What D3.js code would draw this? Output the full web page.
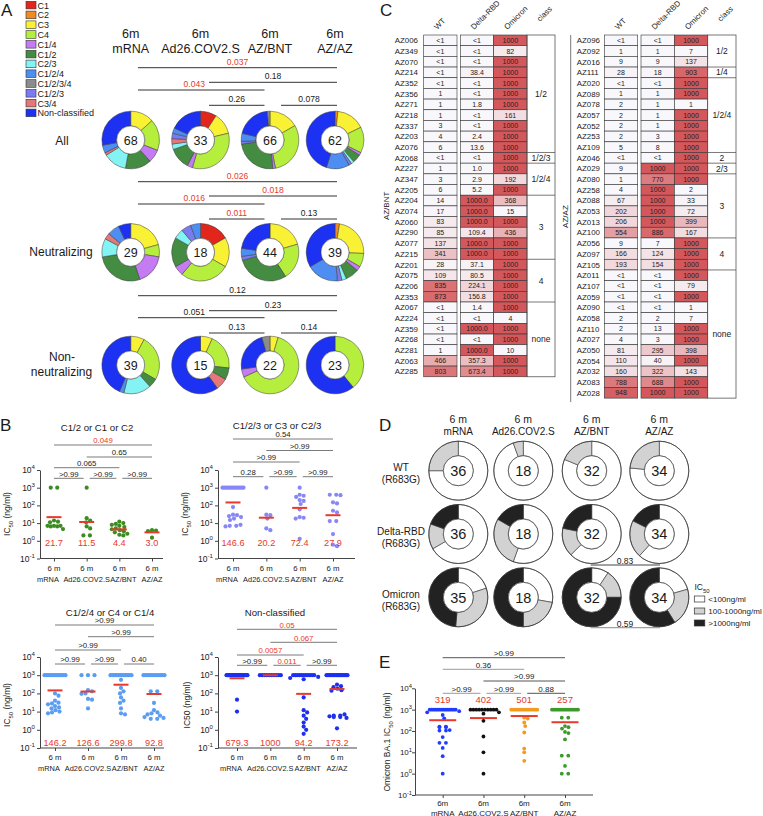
<!DOCTYPE html>
<html><head><meta charset="utf-8">
<script src="https://cdn.jsdelivr.net/npm/d3@7/dist/d3.min.js"></script>
<style>
body{margin:0;background:#fff}
svg text{font-family:Arial,"Liberation Sans",Helvetica,sans-serif}
</style></head><body>
<svg id="fig" width="763" height="816" xmlns="http://www.w3.org/2000/svg"></svg>
<script>
// ================= DATA =================
const vaccines = ["mRNA", "Ad26.COV2.S", "AZ/BNT", "AZ/AZ"];
const timeLabel = "6m";
const timeLabelB = "6 m";

// Panel A
const legendClasses = ["C1","C2","C3","C4","C1/4","C1/2","C2/3","C1/2/4","C1/2/3/4","C1/2/3","C3/4","Non-classified"];
const pieClassOrder = ["C1","C2","C3","C4","C1/4","C1/2","C2/3","C3/4","C1/2/3","C1/2/4","Non-classified","C1/2/3/4"];
const donutRowLabels = ["All","Neutralizing","Non-neutralizing"];
const countsAll = [[0,0,9,12,5,10,9,1,0,3,19,0],[3,0,4,11,1,4,1,1,1,1,6,0],[0,0,11,20,1,16,0,0,1,3,13,1],[0,1,10,9,1,3,1,0,1,8,28,0]];
const countsNeutralizing = [[0,0,6,2,5,8,3,1,0,2,2,0],[3,0,3,5,1,3,1,0,1,1,0,0],[0,0,9,9,0,13,0,0,1,2,10,0],[0,1,9,3,1,3,1,0,1,7,13,0]];
const countsNonNeutralizing = [[0,0,3,10,0,2,6,0,0,1,17,0],[0,0,1,3,0,1,0,1,0,0,9,0],[0,0,1,14,1,0,0,0,0,0,5,1],[0,0,0,9,0,0,0,0,0,0,14,0]];
// [from, to, p, significant]
const pAll = [[0,3,"0.037",1],[1,3,"0.18",0],[0,2,"0.043",1],[1,2,"0.26",0],[2,3,"0.078",0]];
const pNeutralizing = [[0,3,"0.026",1],[1,3,"0.018",1],[0,2,"0.016",1],[1,2,"0.011",1],[2,3,"0.13",0]];
const pNonNeutralizing = [[0,3,"0.12",0],[1,3,"0.23",0],[0,2,"0.051",0],[1,2,"0.13",0],[2,3,"0.14",0]];

// Panel B
const bTitles = ["C1/2 or C1 or C2","C1/2/3 or C3 or C2/3","C1/2/4 or C4 or C1/4","Non-classified"];
const b1_mRNA = [1000,1000,14,12,11,7,7,7,6.5,6.5,4.6];
const b1_Ad26 = [1000,19,14,11,6.5,5,2,2];
const b1_AZBNT = [12,10,9,8,7,6,5,4.5,4,3.5,3,2.5,2.2,2];
const b1_AZAZ = [4,3.8,3.5,1.5];
const b1_means = [21.7,11.5,4.4,3.0];
const b2_mRNA = [1000,1000,1000,1000,1000,1000,1000,1000,1000,1000,1000,1000,1000,80,30,28,25,22,18,15,8,7,7,6.5];
const b2_Ad26 = [1000,30,28,18,5,4];
const b2_AZBNT = [1000,400,350,300,200,180,120,60,22,20,18,1.3];
const b2_AZAZ = [400,400,380,150,130,50,40,13,13,2.4,0.6,0.5];
const b2_means = [146.6,20.2,72.4,27.9];
const b3_mRNA = [1000,1000,1000,1000,1000,1000,1000,1000,1000,1000,1000,1000,1000,100,75,40,31,28,25,20,17,15,12,10,9,8];
const b3_Ad26 = [1000,1000,1000,150,130,100,95,50,45,15];
const b3_AZBNT = [1000,1000,1000,1000,1000,1000,1000,1000,1000,1000,1000,1000,1000,1000,560,200,130,100,60,40,30,15,8,7];
const b3_AZAZ = [1000,1000,1000,1000,1000,1000,1000,1000,1000,1000,1000,1000,130,130,30,12,9,8,7,6,5,4.5,4,4];
const b3_means = [146.2,126.6,299.8,92.8];
const b4_mRNA = [1000,1000,1000,1000,1000,1000,1000,1000,1000,1000,1000,1000,1000,1000,1000,1000,1000,1000,1000,1000,45,10];
const b4_Ad26 = [1000,1000,1000,1000,1000,1000,1000,1000,1000,1000];
const b4_AZBNT = [1000,1000,1000,1000,1000,1000,1000,1000,1000,1000,1000,800,700,600,60,12,9,6,4,2.5,1.5,1,0.6];
const b4_AZAZ = [1000,1000,1000,1000,1000,1000,1000,1000,1000,1000,1000,1000,1000,1000,1000,1000,300,250,220,180,150,140,7,6,6,5.5,5,5,4.5,1.2];
const b4_means = [679.3,1000,94.2,173.2];
const pB1 = [[0,3,"0.049",1],[1,3,"0.65",0],[0,2,"0.065",0],[0,1,">0.99",0],[1,2,">0.99",0],[2,3,">0.99",0]];
const pB2 = [[0,3,"0.54",0],[1,3,">0.99",0],[0,2,">0.99",0],[0,1,"0.28",0],[1,2,">0.99",0],[2,3,">0.99",0]];
const pB3 = [[0,3,">0.99",0],[1,3,">0.99",0],[0,2,">0.99",0],[0,1,">0.99",0],[1,2,">0.99",0],[2,3,"0.40",0]];
const pB4 = [[0,3,"0.05",1],[1,3,"0.067",1],[0,2,"0.0057",1],[0,1,">0.99",0],[1,2,"0.011",1],[2,3,">0.99",0]];

// Panel C
const tableHeaders = ["WT","Delta-RBD","Omicron","class"];
const cLeftGroup = "AZ/BNT";
const cLeftIds = ["AZ006","AZ349","AZ070","AZ214","AZ352","AZ356","AZ271","AZ218","AZ337","AZ203","AZ076","AZ068","AZ227","AZ347","AZ205","AZ204","AZ074","AZ060","AZ290","AZ077","AZ215","AZ201","AZ075","AZ206","AZ353","AZ067","AZ224","AZ359","AZ268","AZ281","AZ063","AZ285"];
const cLeftWT = ["<1","<1","<1","<1","<1","1","1","1","3","4","6","<1","1","3","6","14","17","83","85","137","341","28","109","835","873","<1","<1","<1","<1","1","466","803"];
const cLeftDelta = ["<1","<1","<1","38.4","<1","<1","1.8","<1","<1","2.4","13.6","<1","1.0","2.9","5.2","1000.0","1000.0","1000.0","109.4","1000.0","1000.0","37.1","80.5","224.1","156.8","1.4","<1","1000.0","<1","1000.0","357.3","673.4"];
const cLeftOmicron = ["1000","82","1000","1000","1000","1000","1000","161","1000","1000","1000","1000","1000","192","1000","368","15","1000","436","1000","1000","1000","1000","1000","1000","1000","4","1000","1000","10","1000","1000"];
const cLeftClasses = [["1/2",11],["1/2/3",1],["1/2/4",3],["3",6],["4",4],["none",7]];
const cRightGroup = "AZ/AZ";
const cRightIds = ["AZ096","AZ092","AZ016","AZ111","AZ020","AZ089","AZ078","AZ057","AZ052","AZ253","AZ109","AZ046","AZ029","AZ080","AZ258","AZ088","AZ053","AZ013","AZ100","AZ056","AZ097","AZ105","AZ011","AZ107","AZ059","AZ090","AZ058","AZ110","AZ027","AZ050","AZ054","AZ032","AZ083","AZ028"];
const cRightWT = ["<1","1","9","28","<1","1","2","2","2","2","5","<1","9","1","4","67","202","206","554","9","166","193","<1","<1","<1","<1","2","2","4","81","110","160","788","948"];
const cRightDelta = ["<1","1","9","18","<1","1","1","1","1","3","8","<1","1000","770","1000","1000","1000","1000","886","7","124","154","<1","<1","<1","<1","2","13","3","295","40","322","688","1000"];
const cRightOmicron = ["1000","7","137","903","1000","1000","1","1000","1000","1000","1000","1000","1000","1000","2","33","72","399","167","1000","1000","1000","1000","79","1000","1","7","1000","1000","398","1000","143","1000","1000"];
const cRightClasses = [["1/2",3],["1/4",1],["1/2/4",7],["2",1],["2/3",1],["3",6],["4",3],["none",12]];

// Panel D
const dRowLabels = [["WT","(R683G)"],["Delta-RBD","(R683G)"],["Omicron","(R683G)"]];
const dLegend = ["<100ng/ml","100-1000ng/ml",">1000ng/ml"];
const dWT = [[27,9,0],[17,1,0],[26,6,0],[26,8,0]];
const dDelta = [[24,5,7],[10,5,3],[20,5,7],[21,7,6]];
const dOmicron = [[7,11,17],[5,4,9],[3,5,24],[7,7,20]];
const pD = [[2,3,"0.83"],[2,3,"0.59"]];

// Panel E
const e_mRNA = [1000,1000,1000,1000,1000,1000,1000,1000,1000,1000,1000,1000,1000,1000,850,750,560,390,160,150,150,160,110,105,105,52,28,28,16,6.6,1];
const e_Ad26 = [1000,1000,1000,1000,1000,1000,1000,1000,1000,1000,750,650,300,55,10,1];
const e_AZBNT = [1000,1000,1000,1000,1000,1000,1000,1000,1000,1000,1000,1000,1000,1000,420,380,250,170,85,15,10,4];
const e_AZAZ = [1000,1000,1000,1000,1000,1000,1000,1000,1000,1000,1000,1000,1000,1000,420,420,170,150,130,90,80,40,7,7,2.3,1,1];
const e_means = [319,402,501,257];
const pE = [[0,3,">0.99",0],[0,2,"0.36",0],[1,3,">0.99",0],[0,1,">0.99",0],[1,2,">0.99",0],[2,3,"0.88",0]];

// ================= DRAWING =================
const svg = d3.select("#fig");
const RED = "#e8392a";
function T(g, x, y, s, size, o = {}) {
  const t = g.append("text").attr("x", x).attr("y", y).attr("font-size", size)
    .attr("text-anchor", o.anchor || "middle").attr("fill", o.fill || "#1a1a1a").text(s);
  if (o.rotate != null) t.attr("transform", `rotate(${o.rotate},${x},${y})`);
  return t;
}
function line(g, x1, y1, x2, y2, col, w) {
  return g.append("line").attr("x1", x1).attr("y1", y1).attr("x2", x2).attr("y2", y2)
    .attr("stroke", col || "#333").attr("stroke-width", w || 1);
}
function sup(g, x, y, base, exp, fs) {
  const t = g.append("text").attr("x", x).attr("y", y).attr("text-anchor", "end").attr("font-size", fs).attr("fill", "#1a1a1a");
  t.append("tspan").text(base);
  t.append("tspan").attr("dy", -fs * 0.42).attr("font-size", fs * 0.72).text(exp);
}
function icLabel(g, x, y, pre, post, fs, subscript) {
  const t = g.append("text").attr("x", x).attr("y", y).attr("text-anchor", "middle").attr("font-size", fs)
    .attr("fill", "#1a1a1a").attr("transform", `rotate(-90,${x},${y})`);
  t.append("tspan").text(pre);
  if (subscript) {
    t.append("tspan").attr("dy", fs * 0.3).attr("font-size", fs * 0.7).text("50");
    t.append("tspan").attr("dy", -fs * 0.3).text(post);
  } else {
    t.append("tspan").text("50" + post);
  }
}

// panel letters
T(svg, 1, 16, "A", 17, {anchor: "start"});
T(svg, 0, 431, "B", 17, {anchor: "start"});
T(svg, 380, 16, "C", 17, {anchor: "start"});
T(svg, 379, 431, "D", 17, {anchor: "start"});
T(svg, 379, 668, "E", 17, {anchor: "start"});

// ---------- Panel A ----------
const pieColors = {"C1":"#e2261b","C2":"#ef8c1f","C3":"#f9f133","C4":"#b5ee3c","C1/4":"#c57cf2","C1/2":"#448c41",
  "C2/3":"#84f3f3","C1/2/4":"#4e8ef2","C1/2/3/4":"#8c8c8c","C1/2/3":"#7b7bf0","C3/4":"#e47777","Non-classified":"#1d31f2"};
const gA = svg.append("g");
legendClasses.forEach((c, i) => {
  const yy = 1.3 + i * 9.8;
  gA.append("rect").attr("x", 26).attr("y", yy).attr("width", 10).attr("height", 7.6)
    .attr("fill", pieColors[c]).attr("stroke", "#333").attr("stroke-width", 0.6);
  T(gA, 37.5, yy + 7.2, c, 9, {anchor: "start"});
});
const aCx = [130.7, 200.5, 270, 335];
const aCy = [140, 252.3, 365];
vaccines.forEach((v, i) => {
  T(gA, aCx[i], 38.3, timeLabel, 12.5);
  T(gA, aCx[i], 53.3, v, 12.5);
});
T(gA, 62, 145, donutRowLabels[0], 12);
T(gA, 61, 255.7, donutRowLabels[1], 12);
T(gA, 62, 360.7, "Non-", 12);
T(gA, 61.5, 375.7, "neutralizing", 12);
const pieGen = d3.pie().sort(null).value(d => d);
const arcA = d3.arc().innerRadius(14).outerRadius(28.8);
[countsAll, countsNeutralizing, countsNonNeutralizing].forEach((rows, ri) => {
  rows.forEach((counts, vi) => {
    const g = gA.append("g").attr("transform", `translate(${aCx[vi]},${aCy[ri]})`);
    g.selectAll("path").data(pieGen(counts).filter(d => d.value > 0)).join("path")
      .attr("d", arcA).attr("fill", d => pieColors[pieClassOrder[d.index]])
      .attr("stroke", "#3a3a3a").attr("stroke-width", 0.5);
    g.append("circle").attr("r", 14).attr("fill", "#fff").attr("stroke", "#3a3a3a").attr("stroke-width", 0.5);
    T(g, 0, 4.5, d3.sum(counts), 12.5);
  });
});
const aLeft = [138, 209, 281], aRight = [0, 0, 264.5, 337];
const aLevels = [[67.7, 82.3, 90, 105.3, 105.3], [181.7, 196, 204, 219, 219], [295.7, 310.7, 317.7, 333, 333]];
const aTextDx = [0, 0, -7, 0, 0];
[pAll, pNeutralizing, pNonNeutralizing].forEach((list, ri) => {
  list.forEach((p, k) => {
    const x1 = aLeft[p[0]], x2 = aRight[p[1]], yy = aLevels[ri][k];
    line(gA, x1, yy, x2, yy, "#333", 1);
    T(gA, (x1 + x2) / 2 + aTextDx[k], yy - 3, p[2], 8.5, {fill: p[3] ? RED : "#1a1a1a"});
  });
});

// ---------- dot plot helper (Panels B, E) ----------
function swarm(values, y, cx, r, rowSpacing, rowMax) {
  const out = [];
  const counts = d3.rollup(values, v => v.length, d => d);
  for (const [v, n] of counts) {
    if (n > 1) {
      const sp = Math.min(rowSpacing, rowMax / (n - 1));
      for (let i = 0; i < n; i++) out.push({v, x: cx + (i - (n - 1) / 2) * sp, y: y(v)});
    }
  }
  const singles = values.filter(v => counts.get(v) === 1).sort((a, b) => b - a);
  for (const v of singles) {
    const yy = y(v);
    let px = cx;
    for (let k = 0; k < 80; k++) {
      const dx = (k % 2 ? 1 : -1) * Math.ceil(k / 2) * 0.5;
      const ok = out.every(p => Math.hypot(p.x - (cx + dx), p.y - yy) >= 2 * r * 0.95);
      if (ok) { px = cx + dx; break; }
    }
    out.push({v, x: px, y: yy});
  }
  return out;
}
function dotPanel(c) {
  const g = svg.append("g");
  const y = d3.scaleLog().domain([0.1, 1e4]).range([c.yBot, c.yTop]);
  const x = d3.scalePoint().domain(vaccines).range(c.xr);
  const ya = g.append("g").attr("transform", `translate(${c.axX},0)`)
    .call(d3.axisLeft(y).tickValues([0.1, 1, 10, 100, 1000, 10000]).tickSize(3).tickSizeOuter(0).tickFormat(""));
  ya.selectAll("path,line").attr("stroke", "#444");
  [-1, 0, 1, 2, 3, 4].forEach(e => sup(g, c.axX - c.tickGap, y(10 ** e) + 3, "10", e, c.tickFs));
  line(g, c.axX, c.yBot, c.axXEnd, c.yBot, "#444", 1);
  const xa = g.append("g").attr("transform", `translate(0,${c.yBot})`)
    .call(d3.axisBottom(x).tickSize(3).tickFormat(""));
  xa.select(".domain").remove();
  xa.selectAll("line").attr("stroke", "#444");
  c.data.forEach((vals, i) => {
    const cx = x(vaccines[i]);
    const pts = swarm(vals, y, cx, c.r, c.rowSpacing, c.rowMax);
    g.selectAll(null).data(pts).join("circle").attr("cx", d => d.x).attr("cy", d => d.y)
      .attr("r", c.r).attr("fill", c.colors[i]);
  });
  c.means.forEach((m, i) => {
    const cx = x(vaccines[i]);
    line(g, cx - c.meanHW, y(m), cx + c.meanHW, y(m), RED, 2);
    T(g, cx, c.meanY, c.meanFmt(m), c.meanFs, {fill: RED});
  });
  vaccines.forEach((v, i) => {
    T(g, x(v), c.xl1, c.timeLab, c.xFs);
    T(g, x(v) + c.nameDx[i], c.xl2, v, c.nameFs);
  });
  if (c.title) T(g, c.titleX, c.titleY, c.title, 9.6);
  icLabel(g, c.ylabX, c.ylabY, c.ylabPre, " (ng/ml)", c.ylabFs, c.ylabSub);
  const xs = vaccines.map(v => x(v));
  c.sig.forEach((p, k) => {
    const a = p[0], b = p[1];
    let x1 = xs[a], x2 = xs[b];
    if (b - a === 1) { x1 = xs[a] + (a ? 3 : 0); x2 = xs[b] - (b < 3 ? 3 : 0); }
    const yy = c.sigLevels[k];
    line(g, x1, yy, x2, yy, c.sigCols ? c.sigCols[k] : "#7a7a7a", 1);
    T(g, (x1 + x2) / 2, yy - 1.8, p[2], c.sigFs, {fill: p[3] ? RED : "#1a1a1a"});
  });
}
const fmt1 = m => m === 1000 ? "1000" : m.toFixed(1);
const bCommon = {r: 2.1, rowSpacing: 6.5, rowMax: 21, meanHW: 7.5, meanFs: 9.2, xFs: 7.8, nameFs: 7.4, nameDx: [-6, 0, 4, 0],
  tickFs: 8.5, tickGap: 5, sigFs: 7.8, meanFmt: fmt1, timeLab: timeLabelB, ylabPre: "IC", ylabFs: 8.5, ylabSub: true};
dotPanel(Object.assign({}, bCommon, {axX: 40, axXEnd: 163, yTop: 470, yBot: 558.5, xr: [54, 152],
  data: [b1_mRNA, b1_Ad26, b1_AZBNT, b1_AZAZ], means: b1_means, colors: ["#3d8c23","#3d8c23","#3d8c23","#3d8c23"],
  title: bTitles[0], titleX: 97, titleY: 431, ylabX: 10, ylabY: 514, meanY: 546, xl1: 571, xl2: 582,
  sig: pB1, sigLevels: [445, 457, 467.7, 478.3, 478.3, 478.3]}));
dotPanel(Object.assign({}, bCommon, {axX: 218, axXEnd: 355, yTop: 470, yBot: 558.5, xr: [233, 333],
  data: [b2_mRNA, b2_Ad26, b2_AZBNT, b2_AZAZ], means: b2_means, colors: ["#8787f5","#8787f5","#8787f5","#8787f5"],
  title: bTitles[1], titleX: 277, titleY: 428.5, ylabX: 188, ylabY: 514, meanY: 546, xl1: 571, xl2: 582,
  sig: pB2, sigLevels: [439, 450.5, 462, 476.7, 476.7, 476.7]}));
dotPanel(Object.assign({}, bCommon, {axX: 40, axXEnd: 164, yTop: 657, yBot: 748, xr: [55, 154],
  data: [b3_mRNA, b3_Ad26, b3_AZBNT, b3_AZAZ], means: b3_means, colors: ["#5b9df2","#5b9df2","#5b9df2","#5b9df2"],
  title: bTitles[2], titleX: 110, titleY: 615.5, ylabX: 10, ylabY: 705, meanY: 746, xl1: 760, xl2: 770.5,
  sig: pB3, sigLevels: [625, 636.7, 650, 664, 664, 664]}));
dotPanel(Object.assign({}, bCommon, {axX: 218, axXEnd: 357, yTop: 657, yBot: 748, xr: [237, 337],
  data: [b4_mRNA, b4_Ad26, b4_AZBNT, b4_AZAZ], means: b4_means, colors: ["#1d30f0","#1d30f0","#1d30f0","#1d30f0"],
  title: bTitles[3], titleX: 275, titleY: 615.5, ylabX: 190, ylabY: 705, ylabSub: false, meanY: 746, xl1: 760, xl2: 770.5,
  sig: pB4, sigLevels: [629.3, 642.3, 655, 665.3, 665.3, 665.3]}));

// ---------- Panel E ----------
dotPanel({r: 1.9, rowSpacing: 6.5, rowMax: 26, meanHW: 13.5, meanFs: 9.5, xFs: 8, nameFs: 8, nameDx: [0, 0, 0, 0],
  tickFs: 8, tickGap: 3, sigFs: 8, meanFmt: m => String(m), timeLab: timeLabel, ylabPre: "Omicron BA.1 IC", ylabFs: 8.5, ylabSub: true,
  axX: 415, axXEnd: 593, yTop: 688.3, yBot: 795, xr: [442.7, 565],
  data: [e_mRNA, e_Ad26, e_AZBNT, e_AZAZ], means: e_means, colors: ["#1f3cff","#111111","#f39a1e","#3c9a2a"],
  title: null, ylabX: 390, ylabY: 742, meanY: 702.5, xl1: 806, xl2: 815.5,
  sig: pE, sigLevels: [657.7, 669.3, 681, 693.3, 693.3, 693.3], sigCols: ["#555","#9a9a9a","#555","#9a9a9a","#9a9a9a","#555"]});

// ---------- Panel C ----------
const cellColor = d3.scaleLinear().domain([0, 1000]).range(["#f8f8fc", "#d4575b"]).clamp(true);
const num = s => s.startsWith("<") ? 0 : parseFloat(s);
function drawTable(t) {
  const g = svg.append("g");
  const rowH = 10.68, top = 35;
  const n = t.ids.length;
  const bottom = top + n * rowH;
  t.ids.forEach((id, i) => {
    const yy = top + i * rowH;
    T(g, t.idX, yy + rowH / 2 + 2.9, id, 7.9, {anchor: "start"});
    [t.wt, t.delta, t.omi].forEach((col, j) => {
      const [x0, x1] = t.cols[j];
      g.append("rect").attr("x", x0).attr("y", yy).attr("width", x1 - x0).attr("height", rowH)
        .attr("fill", cellColor(num(col[i]))).attr("stroke", "#333").attr("stroke-width", 0.6);
      T(g, (x0 + x1) / 2, yy + rowH / 2 + 2.5, col[i], 7, {fill: "#222"});
    });
  });
  const [c0, c1] = t.cls;
  g.append("rect").attr("x", c0).attr("y", top).attr("width", c1 - c0).attr("height", n * rowH)
    .attr("fill", "none").attr("stroke", "#555").attr("stroke-width", 0.8);
  let acc = 0;
  t.classes.forEach(([lab, cnt], k) => {
    const y0 = top + acc * rowH;
    if (k > 0) line(g, c0, y0, c1, y0, "#555", 0.8);
    T(g, (c0 + c1) / 2, y0 + cnt * rowH / 2 + 3, lab, 8.5);
    acc += cnt;
  });
  const centers = [t.cols[0], t.cols[1], t.cols[2], t.cls].map(d => (d[0] + d[1]) / 2);
  tableHeaders.forEach((h, j) => {
    const hx = centers[j] - (j === 3 ? 1 : 3), hy = j === 3 ? 22 : 30;
    T(g, hx, hy, h, 7.8, {anchor: "start", rotate: -45});
  });
  if (t.lineX) line(g, t.lineX, top, t.lineX, bottom + 4, "#555", 0.8);
  T(g, t.groupX, (top + bottom) / 2, t.group, 8, {rotate: -90});
}
drawTable({idX: 394.7, cols: [[423.7, 457], [460.3, 493.7], [493.7, 527]], cls: [527, 555],
  ids: cLeftIds, wt: cLeftWT, delta: cLeftDelta, omi: cLeftOmicron, classes: cLeftClasses,
  group: cLeftGroup, groupX: 389, lineX: null});
drawTable({idX: 576.7, cols: [[604.3, 637.7], [641, 674.3], [674.3, 707.7]], cls: [707.7, 736],
  ids: cRightIds, wt: cRightWT, delta: cRightDelta, omi: cRightOmicron, classes: cRightClasses,
  group: cRightGroup, groupX: 568.5, lineX: 570.7});

// ---------- Panel D ----------
const gD = svg.append("g");
const dCx = [458.3, 523.3, 591.7, 659.3], dCy = [470.7, 534, 597.3];
const dColors = ["#ffffff", "#d2d2d2", "#222222"];
vaccines.forEach((v, i) => {
  T(gD, dCx[i], 423, timeLabelB, 10.5);
  T(gD, dCx[i], 434.5, v, 10);
});
dRowLabels.forEach((l, r) => {
  T(gD, 401, dCy[r] + 0.5, l[0], 10);
  T(gD, 401, dCy[r] + 12.5, l[1], 10);
});
const arcD = d3.arc().innerRadius(15).outerRadius(29.5);
[dWT, dDelta, dOmicron].forEach((rows, r) => {
  rows.forEach((counts, i) => {
    const g = gD.append("g").attr("transform", `translate(${dCx[i]},${dCy[r]})`);
    g.selectAll("path").data(pieGen(counts).filter(d => d.value > 0)).join("path")
      .attr("d", arcD).attr("fill", d => dColors[d.index]).attr("stroke", "#333").attr("stroke-width", 0.6);
    g.append("circle").attr("r", 29.5).attr("fill", "none").attr("stroke", "#333").attr("stroke-width", 0.7);
    g.append("circle").attr("r", 15).attr("fill", "#fff").attr("stroke", "#333").attr("stroke-width", 0.7);
    T(g, 0, 5.2, d3.sum(counts), 14.5);
  });
});
line(gD, dCx[2] - 1, 565, dCx[3] + 0.7, 565, "#444", 1);
T(gD, 625, 563.8, pD[0][2], 8.5);
line(gD, dCx[2] - 1, 627.7, dCx[3] + 0.7, 627.7, "#a0a0a0", 1.2);
T(gD, 625, 627, pD[1][2], 8.5);
{
  const t = gD.append("text").attr("x", 694.5).attr("y", 590).attr("font-size", 8.5).attr("fill", "#1a1a1a");
  t.append("tspan").text("IC");
  t.append("tspan").attr("dy", 2.5).attr("font-size", 6).text("50");
  dLegend.forEach((l, k) => {
    const yy = 599 + k * 12;
    gD.append("rect").attr("x", 694.3).attr("y", yy - 3).attr("width", 10.5).attr("height", 6)
      .attr("fill", dColors[k]).attr("stroke", "#333").attr("stroke-width", 0.7);
    T(gD, 708.3, yy + 3, l, 8, {anchor: "start"});
  });
}
</script></body></html>
